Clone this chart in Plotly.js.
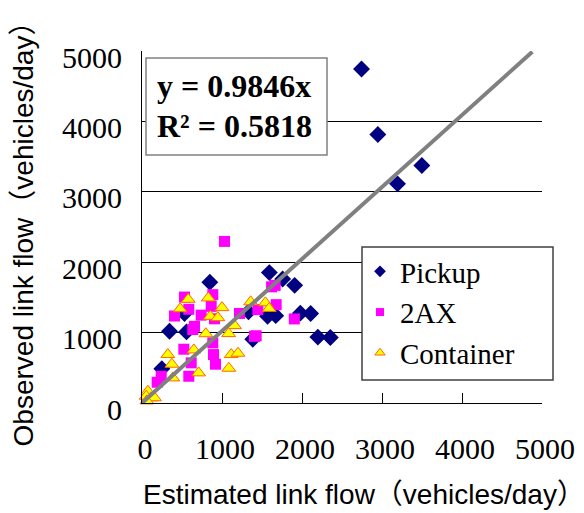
<!DOCTYPE html>
<html>
<head>
<meta charset="utf-8">
<script src="https://cdn.plot.ly/plotly-3.0.1.min.js"></script>
<style>html,body{margin:0;padding:0;background:#fff;}#chart{width:584px;height:513px;}</style>
</head>
<body>
<div id="chart"></div>
<script>
// Pickup (diamonds)
const pickupX = [248, 344, 531, 556, 848, 1331, 1385, 1570, 1592, 1672, 1758, 1908, 1979, 2108, 2198, 2354, 2744, 2948, 3194, 3498];
const pickupY = [487, 1020, 1270, 1010, 1715, 1295, 905, 1231, 1852, 1241, 1762, 1671, 1276, 1272, 936, 931, 4745, 3813, 3113, 3373];
// 2AX (squares)
const axX = [1031, 885, 531, 406, 585, 740, 656, 865, 906, 1219, 1448, 1620, 1665, 1677, 1904, 1427, 523, 885, 894, 919, 615, 585, 240, 190, 635, 1406];
const axY = [2295, 1539, 1505, 1236, 1331, 1248, 1089, 1373, 1196, 1272, 1326, 1650, 1671, 1397, 1194, 955, 764, 854, 688, 551, 570, 380, 380, 295, 1043, 947];
// Container (triangles)
const contX = [577, 477, 829, 1000, 854, 948, 1156, 1083, 798, 1358, 1542, 1590, 648, 323, 373, 385, 708, 1115, 1200, 1085, 73, 115, 52, 156, 60];
const contY = [1473, 1338, 1492, 1355, 1231, 1212, 1099, 986, 984, 1437, 1423, 1343, 754, 688, 551, 357, 428, 688, 707, 494, 167, 74, 96, 74, 30];
// Fitted line endpoints as drawn
const fitX = [0, 4880];
const fitY = [0, 4990];
const seriesNames = ["Pickup", "2AX", "Container"];
const tickVals = [0, 1000, 2000, 3000, 4000, 5000];
const eqLine1 = "y = 0.9846x";
const eqLine2 = "R² = 0.5818";
const xTitle = "Estimated link flow（vehicles/day）";
const yTitle = "Observed link flow（vehicles/day）";

const serif = "Liberation Serif, Times New Roman, serif";
const sans = "Liberation Sans, Arial, Noto Sans CJK SC, sans-serif";

const mk = {
  pickup: {symbol: "diamond", color: "#000080", line: {width: 0}},
  ax: {symbol: "square", color: "#FF00FF", line: {width: 0}},
  cont: {symbol: "triangle-up", color: "#FFFF00", line: {width: 1, color: "#FF6600"}}
};

const traces = [
  {x: pickupX, y: pickupY, type: "scatter", mode: "markers", showlegend: false, cliponaxis: false,
   marker: Object.assign({size: 13}, mk.pickup)},
  {x: axX, y: axY, type: "scatter", mode: "markers", showlegend: false, cliponaxis: false,
   marker: Object.assign({size: 11}, mk.ax)},
  {x: contX, y: contY, type: "scatter", mode: "markers", showlegend: false, cliponaxis: false,
   marker: Object.assign({size: 12}, mk.cont)},
  {x: fitX, y: fitY, type: "scatter", mode: "lines", showlegend: false, cliponaxis: false,
   line: {color: "#808080", width: 4}},
  // legend entries
  {x: [null], y: [null], type: "scatter", mode: "markers", name: seriesNames[0],
   marker: Object.assign({size: 9}, mk.pickup)},
  {x: [null], y: [null], type: "scatter", mode: "markers", name: seriesNames[1],
   marker: Object.assign({size: 8}, mk.ax)},
  {x: [null], y: [null], type: "scatter", mode: "markers", name: seriesNames[2],
   marker: Object.assign({size: 9}, mk.cont)}
];

const L = 142, R = 42, T = 51, B = 110;
const W = 584 - L - R, H = 513 - T - B;
const px = v => (v - L) / W;
const py = v => (513 - B - v) / H;

const layout = {
  width: 584, height: 513,
  margin: {l: L, r: R, t: T, b: B},
  paper_bgcolor: "#fff", plot_bgcolor: "#fff",
  showlegend: true,
  xaxis: {
    range: [0, 5000], tickvals: tickVals, ticks: "inside", ticklen: 10, tickcolor: "#000", tickwidth: 1,
    showgrid: false, zeroline: false, showline: true, linecolor: "#000", linewidth: 1,
    tickfont: {family: serif, size: 30, color: "#000"}, ticklabelstandoff: 19, ticklabelshift: 3
  },
  yaxis: {
    range: [0, 5000], tickvals: tickVals, ticks: "inside", ticklen: 8, tickcolor: "#000", tickwidth: 1,
    showgrid: true, gridcolor: "#000", gridwidth: 1, zeroline: false, showline: true, linecolor: "#000", linewidth: 1,
    tickfont: {family: serif, size: 30, color: "#000"}, ticklabelstandoff: 13, ticklabelshift: 6,
    title: {text: yTitle, font: {family: sans, size: 28, color: "#000"}, standoff: 20}
  },
  legend: {
    x: px(360), y: py(246), xanchor: "left", yanchor: "top",
    bgcolor: "rgba(0,0,0,0)", borderwidth: 0,
    font: {family: serif, size: 29, color: "#000"},
    itemwidth: 30
  },
  shapes: [
    {type: "rect", xref: "paper", yref: "paper", x0: px(146), x1: px(327), y0: py(155), y1: py(58),
     fillcolor: "#fff", line: {color: "#808080", width: 1.5}, layer: "above"},
    {type: "rect", xref: "paper", yref: "paper", x0: px(362), x1: px(553), y0: py(380), y1: py(247),
     fillcolor: "#fff", line: {color: "#404040", width: 1.5}, layer: "above"}
  ],
  annotations: [
    {xref: "paper", yref: "paper", x: px(155), y: py(86), xanchor: "left", yanchor: "middle", showarrow: false,
     text: "<b>" + eqLine1 + "</b>", font: {family: serif, size: 32, color: "#000"}},
    {xref: "paper", yref: "paper", x: px(155), y: py(126), xanchor: "left", yanchor: "middle", showarrow: false,
     text: "<b>" + eqLine2 + "</b>", font: {family: serif, size: 32, color: "#000"}},
    {xref: "paper", yref: "paper", x: px(364), y: py(495), xanchor: "center", yanchor: "middle", showarrow: false,
     text: xTitle, font: {family: sans, size: 28, color: "#000"}}
  ]
};

Plotly.newPlot("chart", traces, layout, {displayModeBar: false, staticPlot: true});
</script>
</body>
</html>
